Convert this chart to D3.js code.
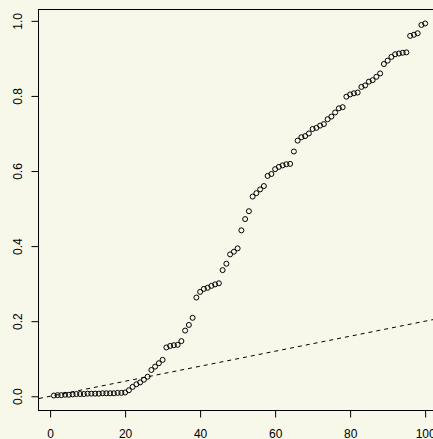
<!DOCTYPE html>
<html>
<head>
<meta charset="utf-8">
<script src="https://cdn.jsdelivr.net/npm/d3@7"></script>
<style>
  html, body { margin: 0; padding: 0; background: #f7f7ea; }
  svg { display: block; }
  text { font-family: "Liberation Sans", Arial, Helvetica, sans-serif; }
</style>
</head>
<body>
<svg id="chart" width="433" height="439"></svg>
<script>
// ---- data ----
const xIndex = d3.range(1, 101);
const yValues = [
  0.002, 0.003, 0.003, 0.004, 0.004, 0.005, 0.006, 0.006, 0.006, 0.007,
  0.007, 0.007, 0.007, 0.008, 0.008, 0.008, 0.008, 0.009, 0.009, 0.010,
  0.016, 0.025, 0.032, 0.037, 0.044, 0.052, 0.070, 0.079, 0.088, 0.097,
  0.130, 0.134, 0.136, 0.137, 0.147, 0.175, 0.190, 0.209, 0.263, 0.278,
  0.286, 0.289, 0.294, 0.298, 0.301, 0.336, 0.353, 0.378, 0.385, 0.394,
  0.442, 0.472, 0.493, 0.532, 0.541, 0.551, 0.560, 0.587, 0.592, 0.605,
  0.611, 0.615, 0.618, 0.619, 0.652, 0.681, 0.690, 0.693, 0.700, 0.712,
  0.715, 0.721, 0.725, 0.738, 0.745, 0.756, 0.767, 0.770, 0.798, 0.804,
  0.807, 0.809, 0.824, 0.828, 0.838, 0.842, 0.851, 0.860, 0.885, 0.894,
  0.904, 0.911, 0.913, 0.915, 0.916, 0.960, 0.963, 0.967, 0.989, 0.993
];
const refSlope = 0.002;      // dashed reference line y = 0.002 * x
const refIntercept = 0;
const xTicks = [0, 20, 40, 60, 80, 100];
const yTicks = [0.0, 0.2, 0.4, 0.6, 0.8, 1.0];

// ---- layout ----
const svg = d3.select("#chart");
const W = 433, H = 439;
svg.append("rect").attr("width", W).attr("height", H).attr("fill", "#f7f7ea");

// R-style 4% axis extension
const xExt = d3.extent(xIndex), yExt = d3.extent(yValues);
const xPad = (xExt[1] - xExt[0]) * 0.04, yPad = (yExt[1] - yExt[0]) * 0.04;
const x = d3.scaleLinear().domain([xExt[0] - xPad, xExt[1] + xPad]).range([39, 440]);
const y = d3.scaleLinear().domain([yExt[0] - yPad, yExt[1] + yPad]).range([410.4, 8.6]);

const [x0, x1] = x.range();
const [y0, y1] = y.range();

// clip
svg.append("clipPath").attr("id", "plotclip")
  .append("rect").attr("x", x0).attr("y", y1).attr("width", x1 - x0).attr("height", y0 - y1);

// dashed reference line
const dom = x.domain();
svg.append("path")
  .attr("clip-path", "url(#plotclip)")
  .attr("d", d3.line().x(d => x(d)).y(d => y(refIntercept + refSlope * d))(dom))
  .attr("fill", "none").attr("stroke", "#000").attr("stroke-width", 1)
  .attr("stroke-dasharray", "4,4");

// points
svg.append("g").selectAll("circle")
  .data(xIndex.map((d, i) => [d, yValues[i]]))
  .join("circle")
  .attr("cx", d => x(d[0])).attr("cy", d => y(d[1]))
  .attr("r", 2.5)
  .attr("fill", "none").attr("stroke", "#000").attr("stroke-width", 1);

// box
svg.append("rect")
  .attr("x", Math.round(x0) - 0.5).attr("y", Math.round(y1) + 0.5)
  .attr("width", x1 - x0).attr("height", Math.round(y0) - Math.round(y1))
  .attr("fill", "none").attr("stroke", "#000").attr("stroke-width", 1);

// y axis
const gy = svg.append("g").attr("transform", `translate(${Math.round(x0) - 0.5},0)`)
  .call(d3.axisLeft(y).tickValues(yTicks).tickFormat(d3.format(".1f")).tickSize(7).tickSizeOuter(0));
gy.select(".domain").remove();
gy.selectAll("line").attr("stroke", "#000");
gy.selectAll("text")
  .attr("x", null).attr("dy", null)
  .attr("transform", "translate(-16.5,0) rotate(-90)")
  .attr("text-anchor", "middle")
  .attr("font-size", 12).attr("fill", "#000")
  .style("font-family", '"Liberation Sans", Arial, sans-serif');

// x axis
const gx = svg.append("g").attr("transform", `translate(0,${Math.round(y0) + 0.5})`)
  .call(d3.axisBottom(x).tickValues(xTicks).tickFormat(d3.format("d")).tickSize(7).tickSizeOuter(0));
gx.select(".domain").remove();
gx.selectAll("line").attr("stroke", "#000");
gx.selectAll("text")
  .attr("y", 27).attr("dy", null)
  .attr("text-anchor", "middle")
  .attr("font-size", 12).attr("fill", "#000")
  .style("font-family", '"Liberation Sans", Arial, sans-serif');
</script>
</body>
</html>
